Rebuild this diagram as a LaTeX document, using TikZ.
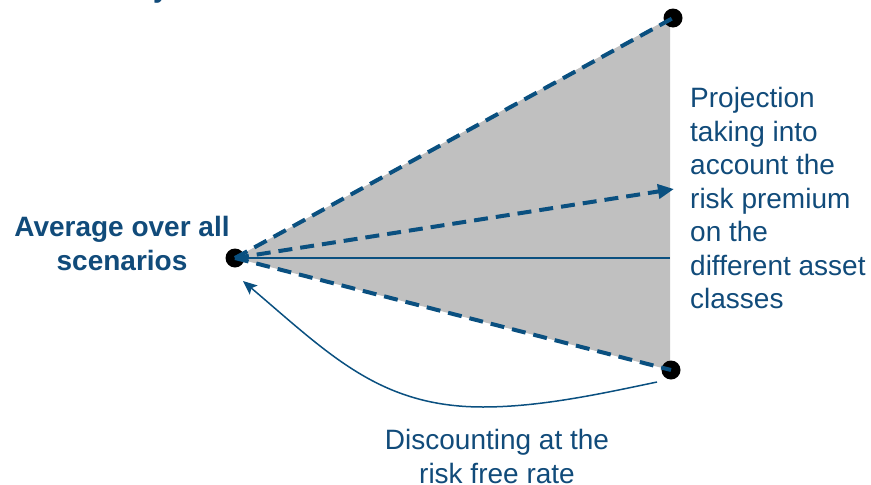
\documentclass[tikz,border=0pt]{standalone}
\usepackage{fontspec}
\setmainfont{Liberation Sans}
\usetikzlibrary{arrows.meta}
\definecolor{txtblue}{RGB}{17,75,122}
\definecolor{lnblue}{RGB}{10,80,128}
\definecolor{fangray}{RGB}{192,192,192}
\begin{document}
\begin{tikzpicture}[x=1pt,y=-1pt,
  lbl/.style={text=txtblue,inner sep=0pt,font=\fontsize{28}{33.5}\selectfont},
  dashline/.style={draw=lnblue,line width=4pt,dash pattern=on 14pt off 8pt},
  dot/.style={circle,fill=black,minimum size=19pt,inner sep=0pt}]
\useasboundingbox (0,0) rectangle (871,485);
\fill[fangray] (235,258) -- (670,18) -- (670,370) -- cycle;
\node[dot] (apex) at (235,258) {};
\node[dot] (top) at (673,18) {};
\node[dot] (bot) at (671,370) {};
\coordinate (mid) at (670,258);
\coordinate (arr) at (674,189);
\coordinate (cs) at (657,382);
\coordinate (cb) at (483,407);
\coordinate (ce) at (243,281);
\draw[dashline] (apex.center) -- (top.center);
\draw[dashline] (apex.center) -- (bot.center);
\draw[dashline,-{Triangle[length=16pt,width=14pt]}] (apex.center) -- (arr);
\draw[lnblue,line width=1.5pt] (apex.center) -- (mid);
\draw[lnblue,line width=1.5pt,-{Stealth[length=14pt,width=12pt,inset=3pt]}]
  (cs) .. controls (600,394) and (540,407) .. (cb)
       .. controls (380,407) and (330,355) .. (ce);
\node[lbl,anchor=base,font=\bfseries\fontsize{28}{33.5}\selectfont] (ytop) at (161,-3) {y};
\node[lbl,anchor=north,align=center,font=\bfseries\fontsize{28}{34}\selectfont] (avg) at (122,216) {Average over all\\scenarios};
\node[lbl,anchor=north west,align=left] (proj) at (690,87.5) {Projection\\taking into\\account the\\risk premium\\on the\\different asset\\classes};
\node[lbl,anchor=north,align=center] (disc) at (497,429.5) {Discounting at the\\risk free rate};
\end{tikzpicture}
\end{document}
